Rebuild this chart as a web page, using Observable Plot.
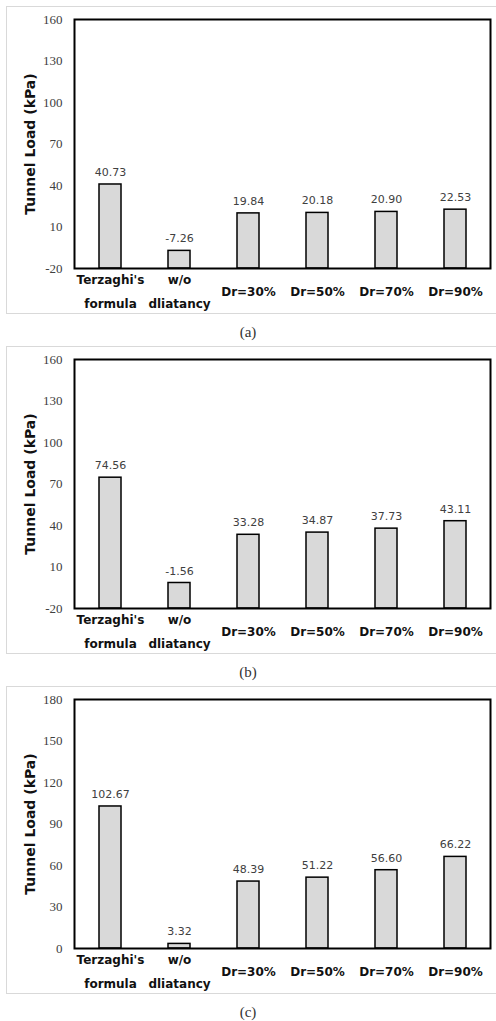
<!DOCTYPE html>
<html><head><meta charset="utf-8">
<script src="https://cdn.jsdelivr.net/npm/d3@7"></script>
<script src="https://cdn.jsdelivr.net/npm/@observablehq/plot@0.6"></script>
<style>
body{margin:0;background:#fff;width:496px;height:1021px;position:relative;overflow:hidden;}
.panel{position:absolute;left:6px;width:490px;height:306px;border:1px solid #d9d9d9;border-right:none;}
.panel svg{display:block;}
.cap{position:absolute;left:0;width:496px;text-align:center;font-family:"Liberation Serif",serif;font-size:15px;line-height:18px;color:#333;}
</style></head><body>
<div id="root"></div>
<script>
const categories = ["Terzaghi's\nformula", "w/o\ndliatancy", "Dr=30%", "Dr=50%", "Dr=70%", "Dr=90%"];
const valuesA = [40.73, -7.26, 19.84, 20.18, 20.90, 22.53];
const valuesB = [74.56, -1.56, 33.28, 34.87, 37.73, 43.11];
const valuesC = [102.67, 3.32, 48.39, 51.22, 56.60, 66.22];
const ticksAB = [-20, 10, 40, 70, 100, 130, 160];
const ticksC = [0, 30, 60, 90, 120, 150, 180];
const panelLabels = ["(a)", "(b)", "(c)"];
const yTitle = "Tunnel Load (kPa)";

function chart(values, ticks) {
  const base = ticks[0];
  const data = categories.map((c, i) => ({cat: c, v: values[i]}));
  return Plot.plot({
    width: 489, height: 306,
    marginLeft: 67, marginRight: 6, marginTop: 12, marginBottom: 45,
    style: {background: "transparent", overflow: "visible"},
    x: {domain: categories, paddingInner: 0.683, paddingOuter: 0.34, axis: null},
    y: {domain: [ticks[0], ticks[ticks.length - 1]], axis: null},
    marks: [
      Plot.barY(data, {x: "cat", y1: () => base, y2: "v", fill: "#d9d9d9", stroke: "#000", strokeWidth: 1.5}),
      Plot.frame({stroke: "#000", strokeWidth: 2}),
      Plot.axisY({ticks: ticks, tickFormat: d => String(d), tickSize: 0, tickPadding: 12, fontFamily: "Liberation Serif", fontSize: 13, fill: "#404040", label: null}),
      Plot.axisX({tickSize: 0, tickPadding: 20, lineAnchor: "middle", lineHeight: 1.95, fontFamily: "DejaVu Sans", fontSize: 12, fontWeight: "bold", fill: "#111", label: null}),
      Plot.text(data, {x: "cat", y: "v", text: d => d.v.toFixed(2), dy: -12, lineAnchor: "middle", fontFamily: "DejaVu Sans", fontSize: 11, fill: "#404040"}),
      Plot.text([yTitle], {frameAnchor: "left", textAnchor: "middle", lineAnchor: "middle", dx: -44, rotate: -90, fontFamily: "DejaVu Sans", fontSize: 14, fontWeight: "bold", fill: "#111"})
    ]
  });
}

const root = document.getElementById("root");
const sets = [[valuesA, ticksAB], [valuesB, ticksAB], [valuesC, ticksC]];
sets.forEach(([vals, ticks], i) => {
  const panel = document.createElement("div");
  panel.className = "panel";
  panel.style.top = (6 + i * 340) + "px";
  panel.appendChild(chart(vals, ticks));
  root.appendChild(panel);
  const cap = document.createElement("div");
  cap.className = "cap";
  cap.style.top = (323 + i * 340) + "px";
  cap.textContent = panelLabels[i];
  root.appendChild(cap);
});
</script>
</body></html>
